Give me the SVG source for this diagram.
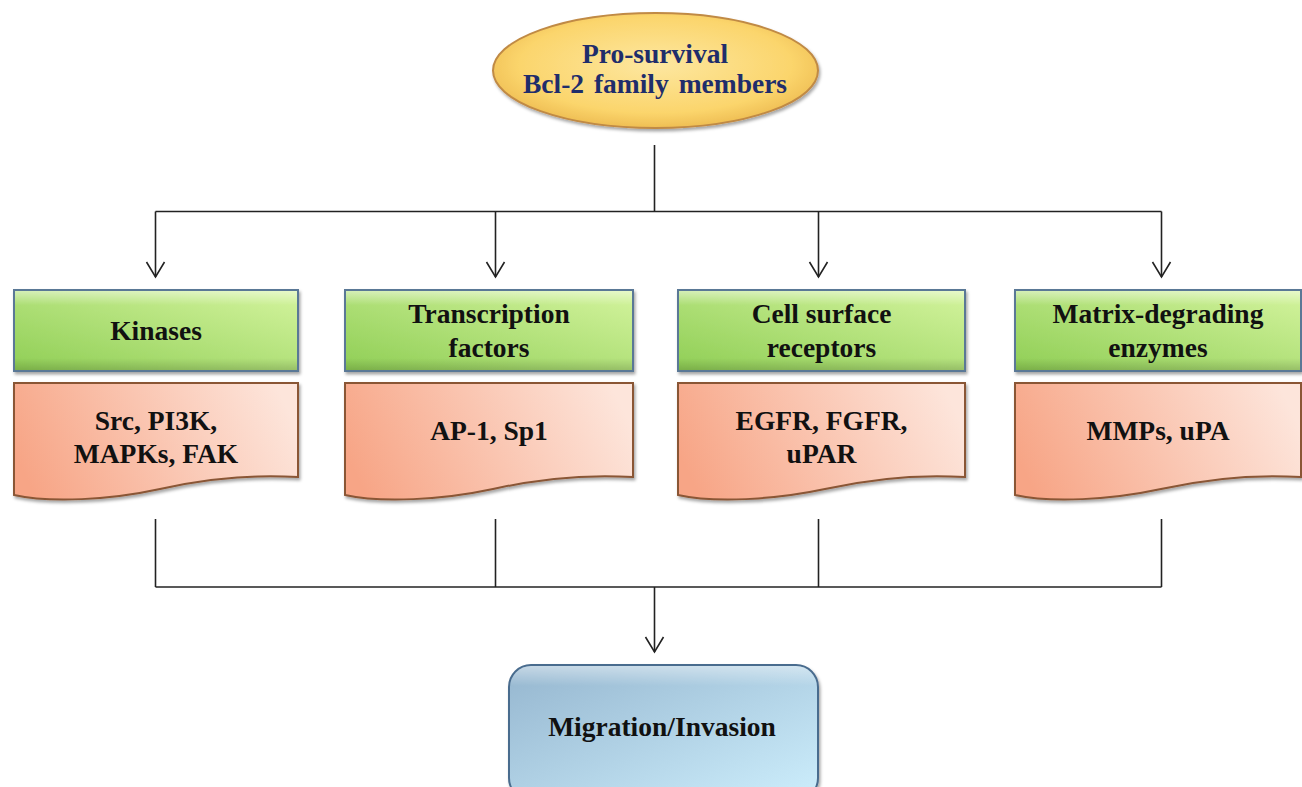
<svg xmlns="http://www.w3.org/2000/svg" width="1302" height="787" viewBox="0 0 1302 787">
  <defs>
    <radialGradient id="gEll" cx="50%" cy="45%" r="60%">
      <stop offset="0" stop-color="#fde7a0"/>
      <stop offset="0.7" stop-color="#fbd56c"/>
      <stop offset="1" stop-color="#eab54a"/>
    </radialGradient>
    <linearGradient id="gGreen" x1="0" y1="1" x2="1" y2="0">
      <stop offset="0" stop-color="#8fce55"/>
      <stop offset="1" stop-color="#d4f49e"/>
    </linearGradient>
    <linearGradient id="gPink" x1="0" y1="0.6" x2="1" y2="0.4">
      <stop offset="0" stop-color="#f7a586"/>
      <stop offset="1" stop-color="#fde5db"/>
    </linearGradient>
    <linearGradient id="gBlue" x1="0" y1="0" x2="1" y2="1">
      <stop offset="0" stop-color="#95b6cf"/>
      <stop offset="1" stop-color="#cdeefc"/>
    </linearGradient>
    <linearGradient id="gShine" x1="0" y1="0" x2="0" y2="1">
      <stop offset="0" stop-color="#ffffff" stop-opacity="0.45"/>
      <stop offset="0.18" stop-color="#ffffff" stop-opacity="0"/>
      <stop offset="0.85" stop-color="#000000" stop-opacity="0"/>
      <stop offset="1" stop-color="#000000" stop-opacity="0.15"/>
    </linearGradient>
    <linearGradient id="gShineTop" x1="0" y1="0" x2="0" y2="1">
      <stop offset="0" stop-color="#ffffff" stop-opacity="0.45"/>
      <stop offset="0.15" stop-color="#ffffff" stop-opacity="0"/>
    </linearGradient>
    <filter id="shadow" x="-10%" y="-10%" width="120%" height="130%">
      <feDropShadow dx="1.5" dy="2.5" stdDeviation="1.8" flood-color="#000" flood-opacity="0.35"/>
    </filter>
    <marker id="arrow" markerUnits="userSpaceOnUse" orient="auto" refX="0" refY="0" overflow="visible">
      <path d="M-15,-9 L0,0 L-15,9" fill="none" stroke="#222" stroke-width="1.6"/>
    </marker>
    <style>
      .lbl { font-family: "Liberation Serif", "Times New Roman", serif; font-weight: bold; font-size: 27.5px; text-anchor: middle; fill: #111; }
      .top { fill: #1f2d6b; }
      .green { fill: url(#gGreen); stroke: #5a7896; stroke-width: 2; filter: url(#shadow); }
      .pink { fill: url(#gPink); stroke: #8a5636; stroke-width: 2; filter: url(#shadow); }
      .shine { fill: url(#gShine); stroke: none; }
      .conn { fill: none; stroke: #222; stroke-width: 1.6; }
    </style>
  </defs>

  <rect width="1302" height="787" fill="#ffffff"/>

  <g id="connectors">
    <line class="conn" x1="654.5" y1="145" x2="654.5" y2="211.5"/>
    <line class="conn" x1="155.5" y1="211.5" x2="1161.5" y2="211.5"/>
    <line class="conn" x1="155.5" y1="211.5" x2="155.5" y2="277" marker-end="url(#arrow)"/>
    <line class="conn" x1="495.5" y1="211.5" x2="495.5" y2="277" marker-end="url(#arrow)"/>
    <line class="conn" x1="818.5" y1="211.5" x2="818.5" y2="277" marker-end="url(#arrow)"/>
    <line class="conn" x1="1161.5" y1="211.5" x2="1161.5" y2="277" marker-end="url(#arrow)"/>
    <line class="conn" x1="155.5" y1="519" x2="155.5" y2="587"/>
    <line class="conn" x1="495.5" y1="519" x2="495.5" y2="587"/>
    <line class="conn" x1="818.5" y1="519" x2="818.5" y2="587"/>
    <line class="conn" x1="1161.5" y1="519" x2="1161.5" y2="587"/>
    <line class="conn" x1="155.5" y1="587" x2="1161.5" y2="587"/>
    <line class="conn" x1="654.5" y1="587" x2="654.5" y2="652" marker-end="url(#arrow)"/>
  </g>

  <g id="node-bcl2">
    <ellipse cx="655.5" cy="70.5" rx="162.5" ry="57.5" fill="url(#gEll)" stroke="#c08a45" stroke-width="2" filter="url(#shadow)"/>
    <text class="lbl top" x="655" y="63">Pro-survival</text>
    <text class="lbl top" x="655" y="93" word-spacing="3">Bcl-2 family members</text>
  </g>

  <g id="node-kinases">
    <rect class="green" x="14" y="290" width="284" height="81"/>
    <rect class="shine" x="15" y="291" width="282" height="79"/>
    <text class="lbl" x="156" y="340">Kinases</text>
  </g>
  <g id="node-kinases-list">
    <path class="pink" d="M14,383 H298 V477 C250,474 200,480 160,489 C110,500 50,503 14,495 Z"/>
    <text class="lbl" x="156" y="430">Src, PI3K,</text>
    <text class="lbl" x="156" y="463">MAPKs, FAK</text>
  </g>

  <g id="node-tf">
    <rect class="green" x="345" y="290" width="288" height="81"/>
    <rect class="shine" x="346" y="291" width="286" height="79"/>
    <text class="lbl" x="489" y="323">Transcription</text>
    <text class="lbl" x="489" y="357">factors</text>
  </g>
  <g id="node-tf-list">
    <path class="pink" d="M345,383 H633 V477 C584,474 533,480 493,489 C442,500 381,503 345,495 Z"/>
    <text class="lbl" x="489" y="440">AP-1, Sp1</text>
  </g>

  <g id="node-csr">
    <rect class="green" x="678" y="290" width="287" height="81"/>
    <rect class="shine" x="679" y="291" width="285" height="79"/>
    <text class="lbl" x="821.5" y="323">Cell surface</text>
    <text class="lbl" x="821.5" y="357">receptors</text>
  </g>
  <g id="node-csr-list">
    <path class="pink" d="M678,383 H965 V477 C916,474 865,480 825,489 C774,500 714,503 678,495 Z"/>
    <text class="lbl" x="821.5" y="430">EGFR, FGFR,</text>
    <text class="lbl" x="821.5" y="463">uPAR</text>
  </g>

  <g id="node-mde">
    <rect class="green" x="1015" y="290" width="286" height="81"/>
    <rect class="shine" x="1016" y="291" width="284" height="79"/>
    <text class="lbl" x="1158" y="323">Matrix-degrading</text>
    <text class="lbl" x="1158" y="357">enzymes</text>
  </g>
  <g id="node-mde-list">
    <path class="pink" d="M1015,383 H1301 V477 C1252,474 1201,480 1161,489 C1110,500 1051,503 1015,495 Z"/>
    <text class="lbl" x="1158" y="440">MMPs, uPA</text>
  </g>

  <g id="node-migration">
    <rect x="509" y="665" width="309" height="135" rx="22" ry="22" fill="url(#gBlue)" stroke="#4a6c8e" stroke-width="2" filter="url(#shadow)"/>
    <rect x="510" y="666" width="307" height="133" rx="21" ry="21" fill="url(#gShineTop)"/>
    <text class="lbl" x="662" y="736">Migration/Invasion</text>
  </g>
</svg>
